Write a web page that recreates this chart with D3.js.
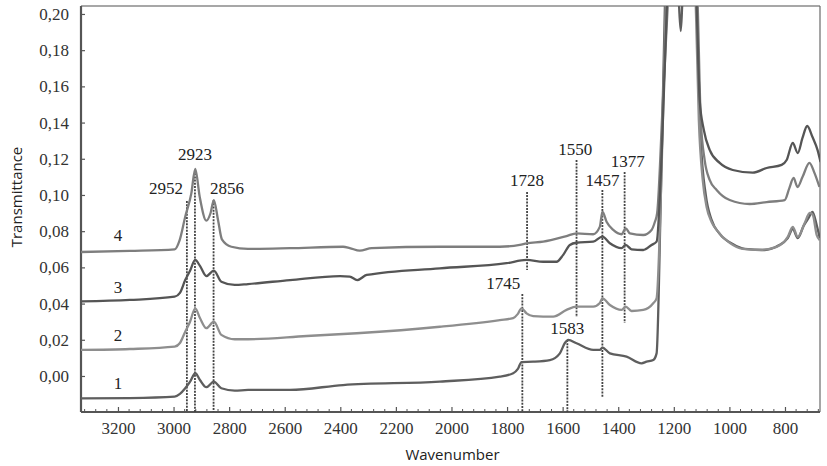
<!DOCTYPE html>
<html>
<head>
<meta charset="utf-8">
<script src="https://cdn.jsdelivr.net/npm/d3@7"></script>
<style>
  html, body { margin: 0; padding: 0; background: #fff; }
  svg { display: block; }
  .serif { font-family: 'Liberation Serif', 'Times New Roman', serif; }
</style>
</head>
<body>
<svg id="chart" width="827" height="466"></svg>
<script>
// ---- data (wavenumber, transmittance) ----
const xTicks = [3200, 3000, 2800, 2600, 2400, 2200, 2000, 1800, 1600, 1400, 1200, 1000, 800];
const yTicks = [0, 0.02, 0.04, 0.06, 0.08, 0.10, 0.12, 0.14, 0.16, 0.18, 0.20];
const seriesNames = ["1", "2", "3", "4"];

const spectrum4 = [
  [3333,0.0685],[3157,0.0691],[2996,0.0700],[2978,0.0751],[2958,0.0880],[2936,0.1009],[2922,0.1144],
  [2906,0.0991],[2882,0.0858],[2867,0.0899],[2855,0.0972],[2840,0.0862],[2826,0.0755],[2792,0.0714],
  [2732,0.0702],[2581,0.0706],[2390,0.0714],[2366,0.0707],[2330,0.0692],[2287,0.0706],[2042,0.0714],
  [1826,0.0714],[1754,0.0724],[1730,0.0733],[1670,0.0742],[1586,0.0773],[1550,0.0788],[1490,0.0783],
  [1466,0.0825],[1457,0.0908],[1442,0.0852],[1418,0.0807],[1388,0.0783],[1373,0.0816],[1358,0.0788],
  [1310,0.0779],[1280,0.0807],[1268,0.0852],[1260,0.0899],[1240,0.150],[1222,0.2044],[1218,0.219],
  [1211,0.23],[1168,0.23],[1117,0.219],[1114,0.2044],[1103,0.1414],[1089,0.1193],[1071,0.1083],
  [1046,0.1028],[999,0.0972],[927,0.0950],[866,0.0961],[801,0.0972],[784,0.1039],[769,0.1094],
  [755,0.1044],[737,0.1099],[712,0.1177],[694,0.1122],[676,0.1044]
];
const spectrum3 = [
  [3333,0.0412],[3157,0.0420],[2996,0.0438],[2977,0.0459],[2958,0.0530],[2941,0.0580],[2922,0.0641],
  [2905,0.0608],[2882,0.0552],[2855,0.0582],[2828,0.0521],[2780,0.0503],[2732,0.0508],[2581,0.0530],
  [2401,0.0552],[2366,0.0549],[2339,0.0530],[2305,0.0558],[2042,0.0595],[1802,0.0623],[1730,0.0641],
  [1670,0.0631],[1622,0.0631],[1598,0.0669],[1574,0.0724],[1550,0.0736],[1490,0.0742],[1457,0.0770],
  [1430,0.0733],[1388,0.0706],[1373,0.0724],[1352,0.0700],[1310,0.0696],[1280,0.0724],[1262,0.0742],
  [1243,0.1249],[1225,0.2044],[1218,0.23],[1164,0.23],[1125,0.224],[1118,0.2044],[1107,0.1525],
  [1092,0.1359],[1071,0.1249],[1035,0.1177],[988,0.1138],[916,0.1123],[866,0.1149],[812,0.1166],
  [794,0.1193],[772,0.1287],[754,0.1232],[737,0.1315],[720,0.1381],[701,0.1320],[683,0.1249],[672,0.1182]
];
const spectrum2 = [
  [3333,0.0144],[3157,0.0149],[2996,0.0162],[2977,0.0182],[2958,0.0245],[2941,0.0298],[2922,0.0374],
  [2905,0.0320],[2882,0.0264],[2855,0.0300],[2828,0.0227],[2780,0.0203],[2732,0.0203],[2521,0.0221],
  [2341,0.0236],[2042,0.0272],[1826,0.0309],[1778,0.0320],[1761,0.0343],[1748,0.0374],[1730,0.0346],
  [1706,0.0331],[1634,0.0328],[1586,0.0365],[1550,0.0383],[1490,0.0383],[1466,0.0403],[1457,0.0429],
  [1430,0.0392],[1388,0.0365],[1373,0.0383],[1352,0.0359],[1310,0.0365],[1274,0.0402],[1262,0.0429],
  [1243,0.1193],[1229,0.2044],[1222,0.23],[1164,0.23],[1128,0.224],[1121,0.2044],[1110,0.1414],
  [1096,0.1083],[1082,0.0934],[1064,0.0851],[1046,0.0807],[999,0.0735],[952,0.0702],[891,0.0696],
  [830,0.0713],[790,0.0768],[772,0.0823],[754,0.0768],[729,0.0845],[711,0.0901],[700,0.0890],
  [686,0.0779],[675,0.0751]
];
const spectrum1 = [
  [3333,-0.0124],[3157,-0.0122],[2996,-0.0114],[2977,-0.0099],[2958,-0.0068],[2941,-0.0033],[2922,0.0015],
  [2905,-0.0022],[2882,-0.0062],[2855,-0.0031],[2828,-0.0068],[2780,-0.0081],[2732,-0.0077],[2581,-0.0077],
  [2390,-0.0050],[2042,-0.0031],[1826,-0.0004],[1778,0.0015],[1761,0.0039],[1748,0.0077],[1706,0.0079],
  [1646,0.0088],[1610,0.0125],[1592,0.0182],[1580,0.0199],[1550,0.0181],[1490,0.0144],[1466,0.0144],
  [1457,0.0157],[1430,0.0125],[1370,0.0107],[1316,0.0070],[1298,0.0079],[1274,0.0088],[1262,0.0125],
  [1247,0.0972],[1232,0.2044],[1225,0.23],[1186,0.23],[1181,0.2044],[1175,0.1906],[1170,0.2044],
  [1164,0.23],[1125,0.224],[1118,0.2044],[1103,0.1304],[1085,0.1000],[1064,0.0862],[1035,0.0785],
  [988,0.0729],[945,0.0702],[873,0.0696],[827,0.0718],[790,0.0762],[772,0.0812],[754,0.0762],
  [733,0.0829],[715,0.0873],[701,0.0906],[686,0.0834],[675,0.0762]
];

// peak markers: wavenumber, line top, line bottom (null = axis), label anchor (wavenumber, value)
const peakWave   = [2952, 2923, 2856, 1745, 1728, 1583, 1550, 1457, 1377];
const peakTop    = [0.0967, 0.1138, 0.0972, 0.0453, 0.1017, 0.0199, 0.1193, 0.1028, 0.1127];
const peakBottom = [null, null, null, null, 0.0586, null, 0.0326, -0.0116, 0.0293];
const labelWave  = [3027, 2923, 2808, 1814, 1728, 1583, 1555, 1457, 1366];
const labelValue = [0.1038, 0.1227, 0.1038, 0.0514, 0.1083, 0.0265, 0.1254, 0.1083, 0.1188];

// series label positions
const seriesLabelWave = [3200, 3200, 3200, 3200];
const seriesLabelValue = [-0.0039, 0.0227, 0.0492, 0.0779];

// ---- layout ----
const svg = d3.select("#chart");
const L = 81, R = 820, T = 6, B = 412;
const x = d3.scaleLinear().domain([3333, 674]).range([L, R]);
const y = d3.scaleLinear().domain([-0.0199, 0.2044]).range([B, T]);

const serif = "'Liberation Serif', 'Times New Roman', serif";
const sans = "'Open Sans', 'Noto Sans', sans-serif";

svg.append("rect").attr("width", 827).attr("height", 466).attr("fill", "#fff");

svg.append("defs").append("clipPath").attr("id", "plotclip")
  .append("rect").attr("x", L).attr("y", T).attr("width", R - L).attr("height", B - T);

// frame top/right
svg.append("line").attr("x1", L).attr("x2", R).attr("y1", T).attr("y2", T)
  .attr("stroke", "#8a8a8a").attr("stroke-width", 1.6);
svg.append("line").attr("x1", R).attr("x2", R).attr("y1", T).attr("y2", B)
  .attr("stroke", "#6a6a6a").attr("stroke-width", 1.2);

// axes
const xAxis = d3.axisBottom(x).tickValues(xTicks).tickSize(-5).tickPadding(10).tickFormat(d3.format("d"));
const gx = svg.append("g").attr("transform", `translate(0,${B})`).call(xAxis);
const minor = d3.range(680, 3333, 40).filter(d => d % 200 !== 0);
gx.selectAll(".minor").data(minor).enter().append("line")
  .attr("x1", d => x(d)).attr("x2", d => x(d)).attr("y1", 0).attr("y2", -3)
  .attr("stroke", "#555").attr("stroke-width", 1);

const fmt = d => d3.format(".2f")(d).replace(".", ",");
const yAxis = d3.axisLeft(y).tickValues(yTicks).tickSize(-4).tickPadding(12).tickFormat(fmt);
const gy = svg.append("g").attr("transform", `translate(${L},0)`).call(yAxis);

[gx, gy].forEach(g => {
  g.attr("font-family", null).attr("font-size", null);
  g.select(".domain").attr("stroke", "#555").attr("stroke-width", 2.2);
  g.selectAll(".tick line").attr("stroke", "#555").attr("stroke-width", 1.2);
  g.selectAll(".tick text").attr("class", "serif")
    .style("font-family", serif).style("font-size", "17px").attr("fill", "#333");
});
gx.select(".domain").attr("d", `M${L},0H${R}`);
gy.select(".domain").attr("d", `M0,${T}V${B}`);

// axis titles
svg.append("text").attr("x", (L + R) / 2 + 2).attr("y", 460).attr("text-anchor", "middle")
  .style("font-family", sans).style("font-size", "15px").attr("fill", "#222").text("Wavenumber");
svg.append("text").attr("transform", "translate(22,197) rotate(-90)").attr("text-anchor", "middle")
  .style("font-family", sans).style("font-size", "15px").attr("fill", "#222").text("Transmittance");

// peak marker lines
const peaks = peakWave.map((w, i) => ({ w, top: peakTop[i], bottom: peakBottom[i], lw: labelWave[i], lv: labelValue[i] }));
svg.append("g").selectAll("line").data(peaks).enter().append("line")
  .attr("x1", d => x(d.w)).attr("x2", d => x(d.w))
  .attr("y1", d => y(d.top))
  .attr("y2", d => d.bottom === null ? B : y(d.bottom))
  .attr("stroke", "#444").attr("stroke-width", 1.8).attr("stroke-dasharray", "2,1.2");

// spectra
const series = [
  { name: "1", data: spectrum1, color: "#5e5e5e" },
  { name: "2", data: spectrum2, color: "#8e8e8e" },
  { name: "4", data: spectrum4, color: "#7e7e7e" },
  { name: "3", data: spectrum3, color: "#555555" }
];
const line = d3.line().x(d => x(d[0])).y(d => y(d[1])).curve(d3.curveMonotoneX);
svg.append("g").attr("clip-path", "url(#plotclip)")
  .selectAll("path").data(series).enter().append("path")
  .attr("d", d => line(d.data)).attr("fill", "none")
  .attr("stroke", d => d.color).attr("stroke-width", 2.3).attr("stroke-linejoin", "round");

// peak labels
svg.append("g").selectAll("text").data(peaks).enter().append("text")
  .attr("x", d => x(d.lw)).attr("y", d => y(d.lv)).attr("dy", "0.35em")
  .attr("text-anchor", "middle").style("font-family", serif).style("font-size", "17px").attr("fill", "#222")
  .text(d => d.w);

// series labels
svg.append("g").selectAll("text").data(seriesNames).enter().append("text")
  .attr("x", (d, i) => x(seriesLabelWave[i])).attr("y", (d, i) => y(seriesLabelValue[i])).attr("dy", "0.35em")
  .attr("text-anchor", "middle").style("font-family", serif).style("font-size", "17px").attr("fill", "#222")
  .text(d => d);
</script>
</body>
</html>
